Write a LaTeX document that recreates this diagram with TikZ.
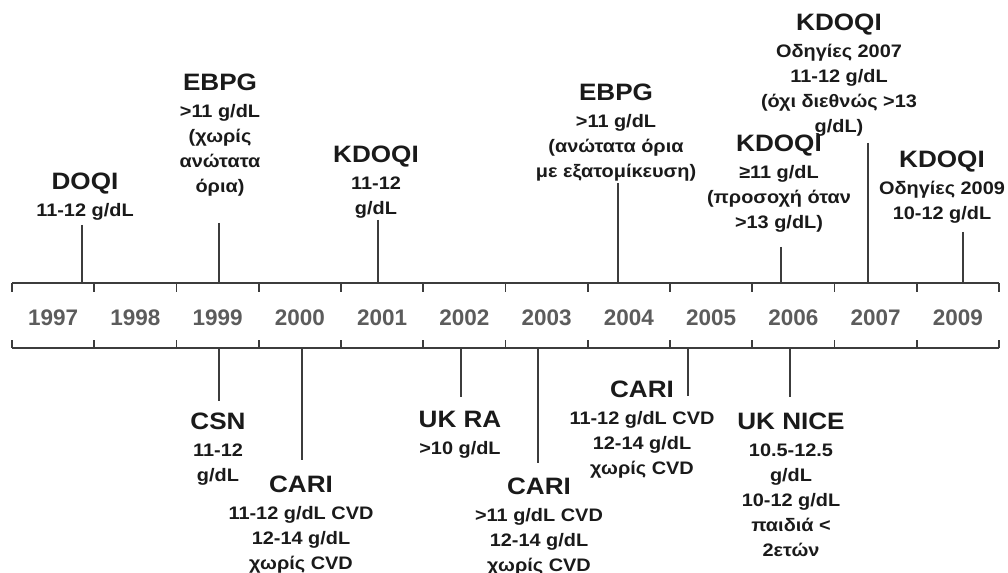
\documentclass[tikz,border=0pt]{standalone}
\usepackage{fontspec}
\setmainfont{Liberation Sans}[FakeStretch=1.1]
\newfontfamily\yearfont{Liberation Sans}
\definecolor{linegray}{HTML}{3C3C3C}
\definecolor{yeargray}{HTML}{5C5C5C}
\definecolor{textblack}{HTML}{1A1A1A}
\newcommand{\hd}[1]{{\fontsize{13.5}{15}\selectfont #1}}

\begin{document}
\begin{tikzpicture}[
    x=0.02cm, y=-0.02cm,
    bar/.style={line width=1.1pt, draw=linegray},
    stem/.style={line width=1.1pt, draw=linegray},
    lbl/.style={align=center, inner sep=0pt, anchor=north, text=textblack,
        font=\fontsize{10.3}{14.2}\selectfont\bfseries},
    yr/.style={inner sep=0pt, text=yeargray,
        font=\yearfont\fontsize{12.8}{15}\selectfont\bfseries},
]
\fill[white] (0,0) rectangle (1008,573);
\useasboundingbox (0,0) rectangle (1008,573);

% timeline
\coordinate (top) at (0,283);
\coordinate (bot) at (0,348);
\draw[bar] (12,283) -- (999,283);
\draw[bar] (12,348) -- (999,348);
\foreach \i in {0,...,12} {
    \draw[bar] ({12+82.25*\i},283) -- ++(0,9);
    \draw[bar] ({12+82.25*\i},348) -- ++(0,-8);
}
% years
\foreach \yr [count=\i from 0] in {1997,...,2007,2009}
    \node[yr] (y\yr) at ({12+82.25*(\i+0.5)},318) {\yr};

% above the line
\node[lbl] (doqi) at (85,173) {\hd{DOQI}\\[1pt]11-12 g/dL};
\coordinate (s97) at (82,225);
\draw[stem] (s97) -- (s97 |- top);

\node[lbl] (ebpg99) at (220,74) {\hd{EBPG}\\[1pt]>11 g/dL\\(χωρίς\\ανώτατα\\όρια)};
\coordinate (s99) at (219,223);
\draw[stem] (s99) -- (s99 |- top);

\node[lbl] (kdoqi01) at (376,146) {\hd{KDOQI}\\[1pt]11-12\\g/dL};
\coordinate (s01) at (378,220);
\draw[stem] (s01) -- (s01 |- top);

\node[lbl] (ebpg04) at (616,84) {\hd{EBPG}\\[1pt]>11 g/dL\\(ανώτατα όρια\\με εξατομίκευση)};
\coordinate (s04) at (618,183);
\draw[stem] (s04) -- (s04 |- top);

\node[lbl] (kdoqi06) at (779,135) {\hd{KDOQI}\\[1pt]≥11 g/dL\\(προσοχή όταν\\>13 g/dL)};
\coordinate (s06) at (781,247);
\draw[stem] (s06) -- (s06 |- top);

\node[lbl] (kdoqi07) at (839,14) {\hd{KDOQI}\\[1pt]Οδηγίες 2007\\11-12 g/dL\\(όχι διεθνώς >13\\g/dL)};
\coordinate (s07) at (868,143);
\draw[stem] (s07) -- (s07 |- top);

\node[lbl] (kdoqi09) at (942,151) {\hd{KDOQI}\\[1pt]Οδηγίες 2009\\10-12 g/dL};
\coordinate (s09) at (963,232);
\draw[stem] (s09) -- (s09 |- top);

% below the line
\node[lbl] (csn) at (218,413) {\hd{CSN}\\[1pt]11-12\\g/dL};
\coordinate (s99b) at (219,401);
\draw[stem] (s99b) -- (s99b |- bot);

\node[lbl] (cari00) at (301,476) {\hd{CARI}\\[1pt]11-12 g/dL CVD\\12-14 g/dL\\χωρίς CVD};
\coordinate (s00) at (302,460);
\draw[stem] (s00) -- (s00 |- bot);

\node[lbl] (ukra) at (460,411) {\hd{UK RA}\\[1pt]>10 g/dL};
\coordinate (s02) at (461,397);
\draw[stem] (s02) -- (s02 |- bot);

\node[lbl] (cari03) at (539,478) {\hd{CARI}\\[1pt]>11 g/dL CVD\\12-14 g/dL\\χωρίς CVD};
\coordinate (s03) at (538,463);
\draw[stem] (s03) -- (s03 |- bot);

\node[lbl] (cari05) at (642,381) {\hd{CARI}\\[1pt]11-12 g/dL CVD\\12-14 g/dL\\χωρίς CVD};
\coordinate (s05) at (688,396);
\draw[stem] (s05) -- (s05 |- bot);

\node[lbl] (uknice) at (791,413) {\hd{UK NICE}\\[1pt]10.5-12.5\\g/dL\\10-12 g/dL\\παιδιά <\\2ετών};
\coordinate (s06b) at (790,397);
\draw[stem] (s06b) -- (s06b |- bot);
\end{tikzpicture}
\end{document}
